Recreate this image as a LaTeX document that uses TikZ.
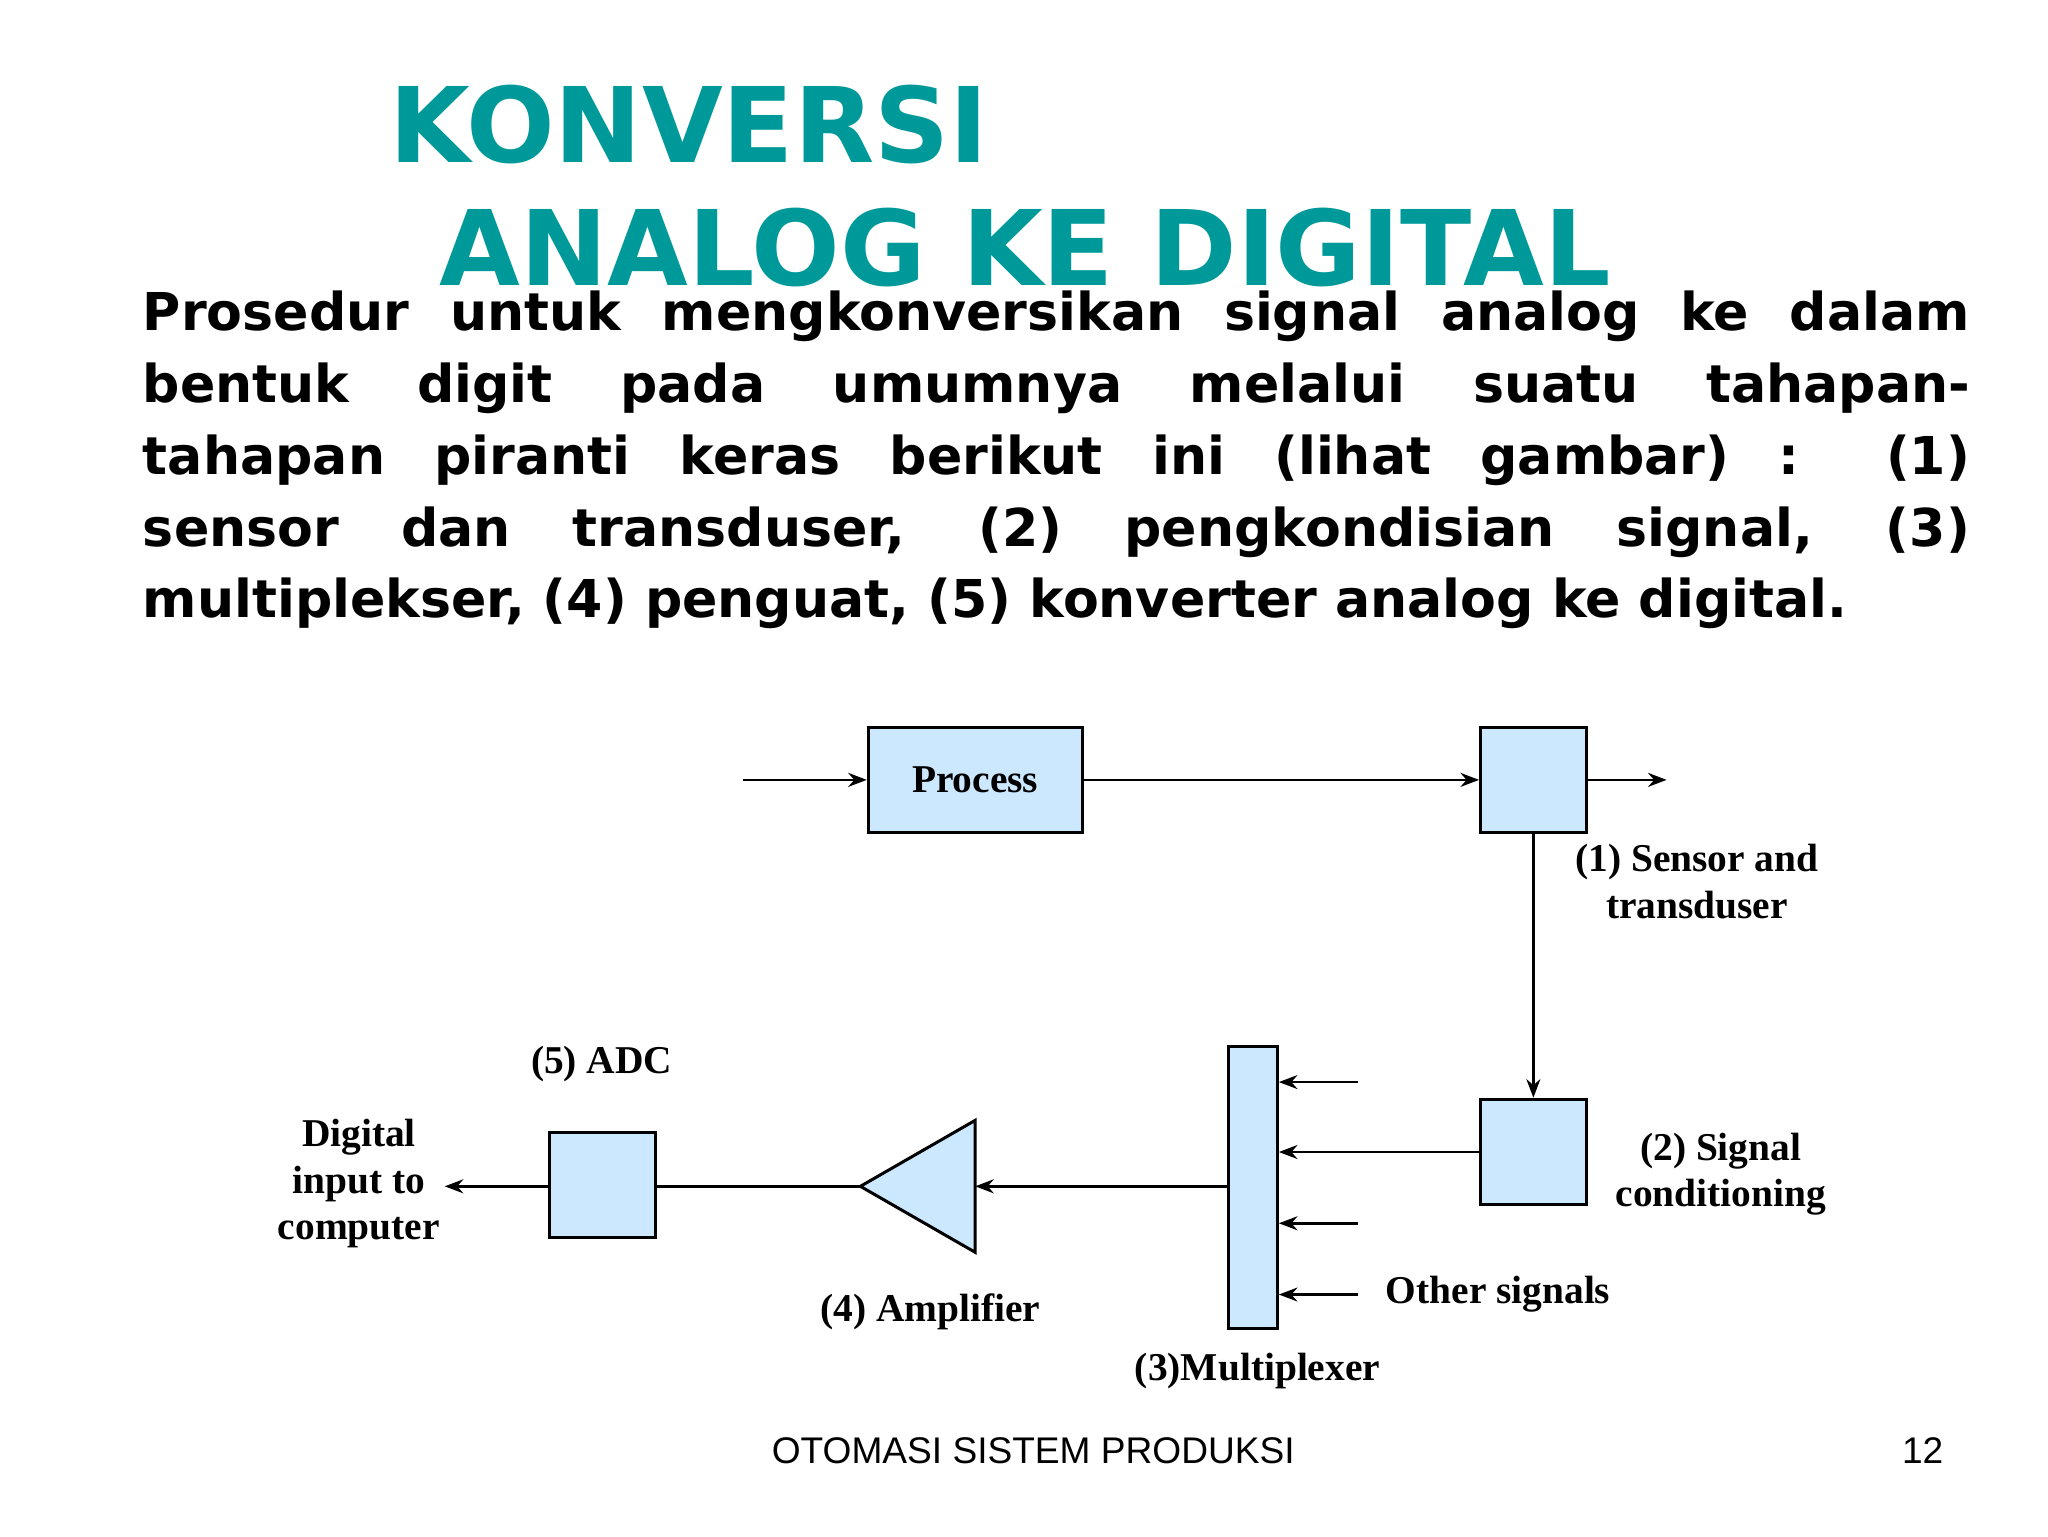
\documentclass[tikz,border=0pt]{standalone}
\usepackage{fontspec}
\setmainfont{Liberation Serif}
\newfontfamily\titlefont{DejaVu Sans}
\newfontfamily\arialf{Liberation Sans}
\usetikzlibrary{arrows.meta}
\definecolor{teal1}{RGB}{0,153,153}
\definecolor{boxblue}{RGB}{204,232,255}
\tikzset{
  blk/.style={draw,line width=1.3pt,fill=boxblue,minimum width=162*0.02cm,minimum height=80*0.02cm,inner sep=0},
  sq/.style={blk,minimum width=80*0.02cm},
  arr/.style={line width=1.2pt,-{Stealth[length=8pt,width=6pt]}},
  lbl/.style={font=\fontsize{17}{20}\selectfont\bfseries,align=center},
}
\begin{document}
\begin{tikzpicture}[x=0.02cm,y=-0.02cm]
\useasboundingbox (0,0) rectangle (1552,1164);
\node[anchor=base west,text=teal1,font=\titlefont\fontsize{45}{50}\selectfont\bfseries,inner sep=0] (t1) at (295,123) {KONVERSI};
\node[anchor=base west,text=teal1,font=\titlefont\fontsize{45}{50}\selectfont\bfseries,inner sep=0] (t2) at (333,216) {ANALOG KE DIGITAL};
\node[anchor=north west,inner sep=0,text width=788pt,font=\titlefont\fontsize{22.5}{31}\selectfont\bfseries,align=justify] (body) at (108,220)
{\hyphenpenalty=10000\exhyphenpenalty=10000
Prosedur untuk mengkonversikan signal analog ke dalam\linebreak
bentuk digit pada umumnya melalui suatu tahapan-\linebreak
tahapan piranti keras berikut ini (lihat gambar) : (1)\linebreak
sensor dan transduser, (2) pengkondisian signal, (3)\linebreak
multiplekser, (4) penguat, (5) konverter analog ke digital.};
% diagram
\node[blk] (proc) at (739,591) {\fontsize{17}{20}\selectfont\bfseries Process};
\node[sq] (sens) at (1162,591) {};
\node[sq] (sig) at (1162,873) {};
\node[draw,line width=1.3pt,fill=boxblue,minimum width=37*0.02cm,minimum height=214*0.02cm,inner sep=0] (mux) at (949.5,900) {};
\node[sq] (adc) at (456.5,898) {};
\coordinate (ampR) at (739,899);
\draw[line width=1.3pt,fill=boxblue] (739,849) -- (739,949) -- (652,899) -- cycle;
\coordinate (ampL) at (652,899);
\coordinate (in) at (563,591);
\coordinate (out) at (1263,591);
\coordinate (dig) at (337,899);
\draw[arr] (in) -- (proc.west);
\draw[arr] (proc.east) -- (sens.west);
\draw[arr] (sens.east) -- (out);
\draw[arr] (sens.south) -- (sig.north);
\draw[arr] (sig.west |- 0,873) -- (mux.east |- 0,873);
\foreach \yy in {820,927,981} { \coordinate (o\yy) at (1029,\yy); \draw[arr] (o\yy) -- (mux.east |- o\yy); }
\draw[arr] (mux.west |- ampR) -- (ampR);
\draw[line width=1.2pt] (ampL) -- (adc.east |- ampL);
\draw[arr] (adc.west |- dig) -- (dig);
\node[lbl] at (456,806) {(5) ADC};
\node[lbl] at (272,897) {Digital\\input to\\computer};
\node[lbl] at (705,994) {(4) Amplifier};
\node[lbl] at (953,1039) {(3)Multiplexer};
\node[lbl,anchor=west] at (1044,981) {Other signals};
\node[lbl] at (1304,890) {(2) Signal\\conditioning};
\node[lbl] at (1286,668) {(1) Sensor and\\transduser};
\node[font=\arialf\fontsize{16}{18}\selectfont] at (783,1099) {OTOMASI SISTEM PRODUKSI};
\node[font=\arialf\fontsize{16}{18}\selectfont] at (1457,1099) {12};
\end{tikzpicture}
\end{document}
